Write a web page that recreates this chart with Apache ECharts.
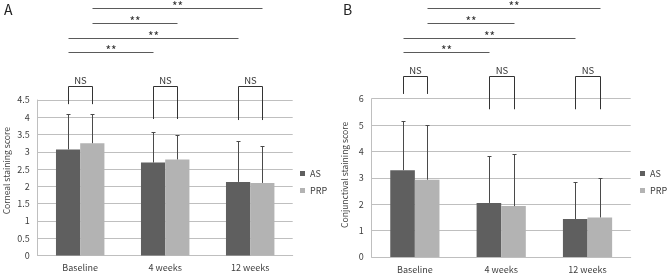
<!DOCTYPE html>
<html>
<head>
<meta charset="utf-8">
<script src="https://cdn.jsdelivr.net/npm/echarts@6/dist/echarts.min.js"></script>
<style>
  html, body { margin: 0; padding: 0; background: #fff; }
  #chart { width: 668px; height: 274px; }
</style>
</head>
<body>
<div id="chart"></div>
<script>
const categories = ['Baseline', '4 weeks', '12 weeks'];
const seriesNames = ['AS', 'PRP'];

// A: corneal staining score, mean and SD
const asCorneal = [3.07, 2.69, 2.13];
const prpCorneal = [3.25, 2.78, 2.10];
const asCornealSd = [1.02, 0.88, 1.17];
const prpCornealSd = [0.84, 0.70, 1.06];
const cornealTicks = [0, 0.5, 1, 1.5, 2, 2.5, 3, 3.5, 4, 4.5];

// B: conjunctival staining score, mean and SD
const asConj = [3.29, 2.05, 1.44];
const prpConj = [2.93, 1.93, 1.50];
const asConjSd = [1.85, 1.78, 1.40];
const prpConjSd = [2.09, 1.97, 1.48];
const conjTicks = [0, 1, 2, 3, 4, 5, 6];

// NS brackets per time point (score units): bracket top, leg end
const nsTopA = [4.9, 4.9, 4.9];
const nsLegA = [4.38, 3.95, 3.92];
const nsTopB = [6.85, 6.85, 6.85];
const nsLegB = [6.18, 5.6, 5.6];

// ** comparisons: [from time, from group, to time, to group], drawn at given levels
const sigPairs = [[0, 1, 2, 1], [0, 1, 1, 1], [0, 0, 2, 0], [0, 0, 1, 0]];
const sigLevelA = [7.16, 6.73, 6.30, 5.89];
const sigLevelB = [9.44, 8.87, 8.31, 7.77];

const FONT = 'Noto Sans CJK KR';
const CAT_GAP = 0.43;
const colors = ['#5f5f5f', '#b3b3b3'];

// x offset of a group's bar center inside the category band
function barOffset(api, si) {
  const band = api.size([1, 0])[0];
  return band * (1 - CAT_GAP) / 4 * (si === 0 ? -1 : 1);
}
const px = v => Math.round(v) + 0.5;

function barSeries(g, name, data, ci) {
  return {
    type: 'bar', name: name, xAxisIndex: g, yAxisIndex: g, data: data,
    barGap: '0%', barCategoryGap: (CAT_GAP * 100) + '%',
    itemStyle: { color: colors[ci] }, silent: true
  };
}

function errorSeries(g, means, sds, si) {
  return {
    type: 'custom', xAxisIndex: g, yAxisIndex: g, silent: true, z: 5,
    data: means.map((m, i) => [i, m, m + sds[i]]),
    renderItem(params, api) {
      const lo = api.coord([api.value(0), api.value(1)]);
      const hi = api.coord([api.value(0), api.value(2)]);
      const x = px(lo[0] + barOffset(api, si));
      const y = px(hi[1]);
      const st = { stroke: '#4a4a4a', lineWidth: 1 };
      return {
        type: 'group', children: [
          { type: 'line', shape: { x1: x, y1: lo[1], x2: x, y2: y }, style: st },
          { type: 'line', shape: { x1: x - 2, y1: y, x2: x + 2, y2: y }, style: st }
        ]
      };
    }
  };
}

function nsSeries(g, tops, legs) {
  return {
    type: 'custom', xAxisIndex: g, yAxisIndex: g, silent: true, clip: false, z: 5,
    data: tops.map((t, i) => [i, t, legs[i]]),
    renderItem(params, api) {
      const i = api.value(0);
      const top = api.coord([i, api.value(1)]);
      const leg = api.coord([i, api.value(2)]);
      const xl = px(top[0] + barOffset(api, 0));
      const xr = px(top[0] + barOffset(api, 1));
      const yt = px(top[1]);
      return {
        type: 'group', children: [
          { type: 'polyline', shape: { points: [[xl, leg[1]], [xl, yt], [xr, yt], [xr, leg[1]]] },
            style: { stroke: '#333', fill: null, lineWidth: 1 } },
          { type: 'text', style: { text: 'NS', x: (xl + xr) / 2, y: yt - 1, align: 'center', verticalAlign: 'bottom',
            fontSize: 9.5, fontFamily: FONT, fill: '#333' } }
        ]
      };
    }
  };
}

function sigSeries(g, levels) {
  return {
    type: 'custom', xAxisIndex: g, yAxisIndex: g, silent: true, clip: false, z: 5,
    data: sigPairs.map((p, k) => [p[0], levels[k], p[1], p[2], p[3]]),
    renderItem(params, api) {
      const a = api.coord([api.value(0), api.value(1)]);
      const b = api.coord([api.value(3), api.value(1)]);
      const x1 = px(a[0] + barOffset(api, api.value(2)));
      const x2 = px(b[0] + barOffset(api, api.value(4)));
      const y = px(a[1]);
      return {
        type: 'group', children: [
          { type: 'line', shape: { x1: x1, y1: y, x2: x2, y2: y }, style: { stroke: '#5a5a5a', lineWidth: 1 } },
          { type: 'text', style: { text: '**', x: (x1 + x2) / 2, y: y - 2.5, align: 'center', verticalAlign: 'middle',
            fontSize: 12, fontFamily: FONT, fill: '#333' } }
        ]
      };
    }
  };
}

function yAxis(g, ticks, name, gap, shift) {
  return {
    type: 'value', gridIndex: g,
    min: ticks[0], max: ticks[ticks.length - 1], interval: ticks[1] - ticks[0],
    name: name, nameLocation: 'middle', nameGap: gap,
    nameTextStyle: { fontSize: 8.5, fontFamily: FONT, color: '#404040', padding: [0, 0, 0, shift] },
    axisLine: { show: true, lineStyle: { color: '#bfbfbf' } },
    axisTick: { show: false },
    axisLabel: { fontSize: 9, fontFamily: FONT, color: '#404040', margin: 8 },
    splitLine: { lineStyle: { color: '#bfbfbf' } }
  };
}

function xAxis(g) {
  return {
    type: 'category', gridIndex: g, data: categories,
    axisLine: { lineStyle: { color: '#bfbfbf' } },
    axisTick: { show: false },
    axisLabel: { fontSize: 9, fontFamily: FONT, color: '#404040', margin: 8 }
  };
}

function legend(left) {
  return {
    data: seriesNames, orient: 'vertical', left: left, top: 169, padding: 0,
    icon: 'rect', itemWidth: 5, itemHeight: 5, itemGap: 8,
    textStyle: { fontSize: 9, fontFamily: FONT, color: '#404040' }
  };
}

const chart = echarts.init(document.getElementById('chart'));
chart.setOption({
  animation: false,
  title: [
    { text: 'A', left: 4, top: 3, padding: 0, textStyle: { fontSize: 14, fontWeight: 'normal', fontFamily: FONT, color: '#222' } },
    { text: 'B', left: 343, top: 3, padding: 0, textStyle: { fontSize: 14, fontWeight: 'normal', fontFamily: FONT, color: '#222' } }
  ],
  legend: [legend(300), legend(640)],
  grid: [
    { left: 37.7, right: 375.3, top: 100, bottom: 18.5 },
    { left: 371.7, right: 37.3, top: 98.7, bottom: 17 }
  ],
  xAxis: [xAxis(0), xAxis(1)],
  yAxis: [
    yAxis(0, cornealTicks, 'Corneal staining score', 27, 14),
    yAxis(1, conjTicks, 'Conjunctival staining score', 23, 6)
  ],
  series: [
    barSeries(0, 'AS', asCorneal, 0),
    barSeries(0, 'PRP', prpCorneal, 1),
    errorSeries(0, asCorneal, asCornealSd, 0),
    errorSeries(0, prpCorneal, prpCornealSd, 1),
    nsSeries(0, nsTopA, nsLegA),
    sigSeries(0, sigLevelA),
    barSeries(1, 'AS', asConj, 0),
    barSeries(1, 'PRP', prpConj, 1),
    errorSeries(1, asConj, asConjSd, 0),
    errorSeries(1, prpConj, prpConjSd, 1),
    nsSeries(1, nsTopB, nsLegB),
    sigSeries(1, sigLevelB)
  ]
});
</script>
</body>
</html>
